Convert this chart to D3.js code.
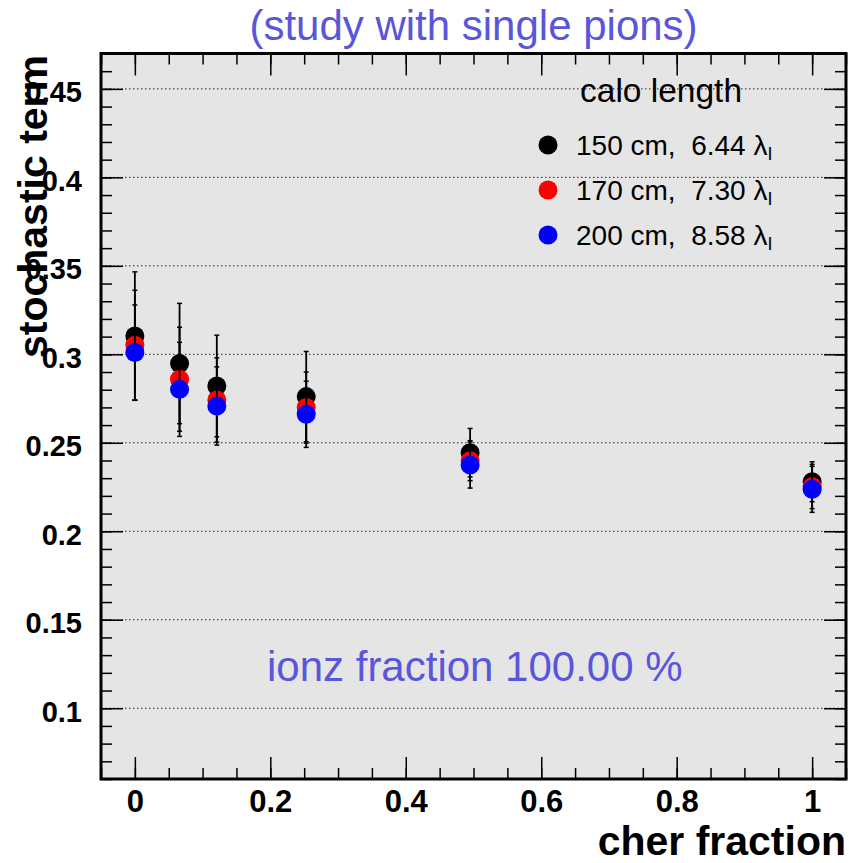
<!DOCTYPE html>
<html>
<head>
<meta charset="utf-8">
<script src="https://cdn.jsdelivr.net/npm/d3@7"></script>
<style>
  body { margin: 0; background: #fff; }
  svg { display: block; font-family: "Liberation Sans", Arial, sans-serif; }
</style>
</head>
<body>
<svg id="chart" width="849" height="863"></svg>
<script>
// values
const cherFraction = [0, 0.066, 0.121, 0.253, 0.495, 1];
const stoch150 = [0.3104, 0.2948, 0.2821, 0.2761, 0.2444, 0.2280];
const err150   = [0.0362, 0.0340, 0.0287, 0.0255, 0.0137, 0.0113];
const stoch170 = [0.3051, 0.2859, 0.2742, 0.2699, 0.2399, 0.2253];
const err170   = [0.0311, 0.0294, 0.0238, 0.0201, 0.0113, 0.0125];
const stoch200 = [0.3010, 0.2802, 0.2708, 0.2661, 0.2374, 0.2237];
const err200   = [0.0269, 0.0266, 0.0221, 0.0187, 0.0130, 0.0130];
const seriesLabels = ["150 cm,  6.44 ", "170 cm,  7.30 ", "200 cm,  8.58 "];
const xTickValues = [0, 0.2, 0.4, 0.6, 0.8, 1];
const yTickValues = [0.1, 0.15, 0.2, 0.25, 0.3, 0.35, 0.4, 0.45];

const svg = d3.select("#chart");
const plotL = 101, plotR = 846, plotT = 53.5, plotB = 779;
const accent = "#5a56dc";

const x = d3.scaleLinear().domain([-0.05, 1.05]).range([plotL, plotR]);
const y = d3.scaleLinear().domain([0.06, 0.47]).range([plotB, plotT]);

// plot background
svg.append("rect")
    .attr("x", plotL).attr("y", plotT)
    .attr("width", plotR - plotL).attr("height", plotB - plotT)
    .attr("fill", "#e5e5e5");

// dotted horizontal grid
svg.append("g").selectAll("line")
    .data(yTickValues)
    .enter()
    .append("line")
    .attr("x1", plotL).attr("x2", plotR)
    .attr("y1", d => y(d)).attr("y2", d => y(d))
    .attr("stroke", "#222")
    .attr("stroke-width", 1)
    .attr("stroke-dasharray", "1.5,2.5");

const xMinor = d3.range(-0.05, 1.0501, 0.05);
const yMinor = d3.range(0.06, 0.4701, 0.01);
const fmt = d => String(+d.toFixed(2));

function tickAxis(axisFn, scale, values, size, pos, labels) {
    const a = axisFn(scale).tickValues(values).tickSize(size).tickSizeOuter(0)
        .tickFormat(labels ? fmt : "");
    const g = svg.append("g").attr("transform", pos).call(a);
    g.select(".domain").remove();
    g.selectAll(".tick line").attr("stroke", "#000").attr("stroke-width", 1.5);
    return g;
}

// minor ticks, all four sides
tickAxis(d3.axisBottom, x, xMinor, -11, `translate(0,${plotB})`, false);
tickAxis(d3.axisTop, x, xMinor, -11, `translate(0,${plotT})`, false);
tickAxis(d3.axisLeft, y, yMinor, -11, `translate(${plotL},0)`, false);
tickAxis(d3.axisRight, y, yMinor, -11, `translate(${plotR},0)`, false);

// major ticks
const xAxisG = tickAxis(d3.axisBottom, x, xTickValues, -22, `translate(0,${plotB})`, true);
tickAxis(d3.axisTop, x, xTickValues, -22, `translate(0,${plotT})`, false);
const yAxisG = tickAxis(d3.axisLeft, y, yTickValues, -22, `translate(${plotL},0)`, true);
tickAxis(d3.axisRight, y, yTickValues, -22, `translate(${plotR},0)`, false);

xAxisG.selectAll(".tick text")
    .attr("y", 33).attr("dy", null)
    .attr("font-size", 31).attr("font-weight", "bold")
    .attr("font-family", "Liberation Sans, Arial, sans-serif")
    .attr("fill", "#000");

yAxisG.selectAll(".tick text")
    .attr("x", -19).attr("dy", 13)
    .attr("font-size", 29).attr("font-weight", "bold")
    .attr("font-family", "Liberation Sans, Arial, sans-serif")
    .attr("fill", "#000");

// frame
svg.append("rect")
    .attr("x", plotL).attr("y", plotT)
    .attr("width", plotR - plotL).attr("height", plotB - plotT)
    .attr("fill", "none")
    .attr("stroke", "#000")
    .attr("stroke-width", 3);

// data
const series = [
    { values: stoch150, errors: err150, color: "#000000" },
    { values: stoch170, errors: err170, color: "#ff0000" },
    { values: stoch200, errors: err200, color: "#0000ff" }
];

series.forEach(s => {
    const pts = cherFraction.map((c, i) => ({ x: c, y: s.values[i], e: s.errors[i] }));
    const g = svg.append("g");

    g.selectAll("line.bar")
        .data(pts)
        .enter()
        .append("line")
        .attr("class", "bar")
        .attr("x1", d => x(d.x)).attr("x2", d => x(d.x))
        .attr("y1", d => y(d.y - d.e)).attr("y2", d => y(d.y + d.e))
        .attr("stroke", "#000").attr("stroke-width", 1.8);

    [-1, 1].forEach(sign => {
        g.selectAll(null)
            .data(pts)
            .enter()
            .append("line")
            .attr("x1", d => x(d.x) - 2.5).attr("x2", d => x(d.x) + 2.5)
            .attr("y1", d => y(d.y + sign * d.e)).attr("y2", d => y(d.y + sign * d.e))
            .attr("stroke", "#000").attr("stroke-width", 1.5);
    });

    g.selectAll("circle")
        .data(pts)
        .enter()
        .append("circle")
        .attr("cx", d => x(d.x))
        .attr("cy", d => y(d.y))
        .attr("r", 9.5)
        .attr("fill", s.color);
});

// legend
svg.append("text")
    .attr("x", 580).attr("y", 101.5)
    .attr("font-size", 33.5)
    .attr("fill", "#000")
    .text("calo length");

const legend = svg.append("g").selectAll("g")
    .data(series)
    .enter()
    .append("g")
    .attr("transform", (d, i) => `translate(548,${145 + i * 45})`);

legend.append("circle")
    .attr("r", 9.5)
    .attr("fill", d => d.color);

const lt = legend.append("text")
    .attr("x", 28).attr("y", 9.5)
    .attr("font-size", 28)
    .attr("fill", "#000")
    .attr("xml:space", "preserve");
lt.append("tspan").text((d, i) => seriesLabels[i]);
lt.append("tspan").text("λ");
lt.append("tspan").attr("font-size", 18).attr("dy", 5).text("I");

// titles
svg.append("text")
    .attr("x", (plotL + plotR) / 2).attr("y", 39.5)
    .attr("text-anchor", "middle")
    .attr("font-size", 42)
    .attr("fill", accent)
    .text("(study with single pions)");

svg.append("text")
    .attr("x", 267).attr("y", 681)
    .attr("font-size", 42)
    .attr("fill", accent)
    .text("ionz fraction 100.00 %");

svg.append("text")
    .attr("x", plotR).attr("y", 855)
    .attr("text-anchor", "end")
    .attr("font-size", 41)
    .attr("font-weight", "bold")
    .attr("fill", "#000")
    .text("cher fraction");

svg.append("text")
    .attr("transform", "translate(47,55) rotate(-90)")
    .attr("text-anchor", "end")
    .attr("font-size", 41)
    .attr("font-weight", "bold")
    .attr("fill", "#000")
    .text("stochastic term");
</script>
</body>
</html>
